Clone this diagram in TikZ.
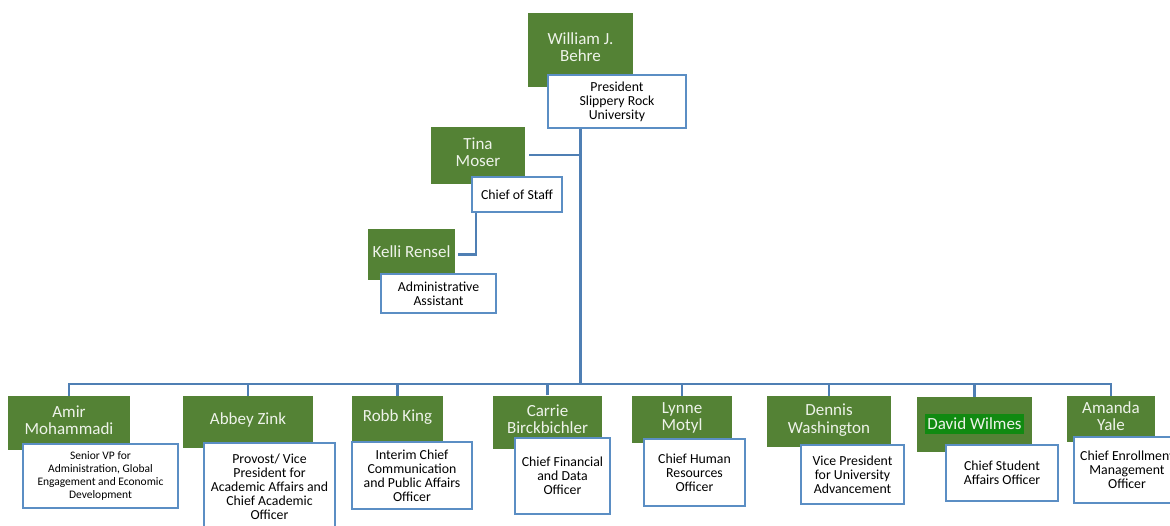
\documentclass[tikz,border=0pt]{standalone}
\usepackage{fontspec}
\setmainfont{Carlito}
\usepackage{tikz}
\definecolor{boxgreen}{HTML}{548235}
\definecolor{namefg}{HTML}{EEF3EA}
\definecolor{edgeblue}{HTML}{5B8EC4}
\definecolor{lineblue}{HTML}{4F7FB4}
\definecolor{hlgreen}{HTML}{118A11}

\begin{document}
\begin{tikzpicture}[x=1pt,y=-1pt]
	\tikzstyle{every node}=[shape=rectangle,align=center,inner sep=0pt];
	\tikzstyle{namebox}=[fill=boxgreen,text=namefg,text depth=6pt,font=\fontsize{17}{17.5}\selectfont];
	\tikzstyle{rolebox}=[draw=edgeblue,line width=2pt,fill=white,text=black,font=\fontsize{13.8}{14}\selectfont];
	\tikzstyle{conn}=[draw=lineblue,line width=2.6pt];
	\path[fill=white] (0,0) rectangle (1170,525);
	\useasboundingbox (0,0) rectangle (1170,525);
	\node[namebox,minimum width=105,minimum height=74] (v0) at (580.5,50) {William J.\\Behre};
	\node[rolebox,minimum width=138,minimum height=53] (t0) at (617,101.5) {President\\Slippery Rock\\University};
	\node[namebox,minimum width=94,minimum height=57] (v1) at (478,155) {Tina\\Moser};
	\node[rolebox,minimum width=90,minimum height=35] (t1) at (517,194.5) {Chief of Staff};
	\node[namebox,minimum width=87,minimum height=51] (v2) at (411.5,254.5) {Kelli Rensel};
	\node[rolebox,minimum width=115,minimum height=39] (t2) at (438.5,293.5) {Administrative\\Assistant};
	\node[namebox,minimum width=122,minimum height=54] (v3) at (69,423) {Amir\\Mohammadi};
	\node[rolebox,minimum width=155,minimum height=64,font=\fontsize{11.5}{13}\selectfont] (t3) at (100.5,476) {Senior VP for\\Administration, Global\\Engagement and Economic\\Development};
	\node[namebox,minimum width=130,minimum height=52] (v4) at (248,422) {Abbey Zink};
	\node[rolebox,minimum width=131,minimum height=88] (t4) at (269.5,487) {Provost/ Vice\\President for\\Academic Affairs and\\Chief Academic\\Officer};
	\node[namebox,minimum width=91,minimum height=46] (v5) at (397.5,419) {Robb King};
	\node[rolebox,minimum width=120,minimum height=67] (t5) at (412,475.5) {Interim Chief\\Communication\\and Public Affairs\\Officer};
	\node[namebox,minimum width=109,minimum height=53] (v6) at (547.5,422) {Carrie\\Birckbichler};
	\node[rolebox,minimum width=95,minimum height=76] (t6) at (562.5,476) {Chief Financial\\and Data\\Officer};
	\node[namebox,minimum width=100,minimum height=47] (v7) at (682,419.5) {Lynne\\Motyl};
	\node[rolebox,minimum width=101,minimum height=67] (t7) at (694.5,472.5) {Chief Human\\Resources\\Officer};
	\node[namebox,minimum width=124,minimum height=51] (v8) at (829,421.5) {Dennis\\Washington};
	\node[rolebox,minimum width=103,minimum height=59] (t8) at (852.5,474.5) {Vice President\\for University\\Advancement};
	\node[namebox,minimum width=115,minimum height=55] (v9) at (974.5,424.5) {{\fboxsep=2pt\colorbox{hlgreen}{\rule[-3pt]{0pt}{16pt}David Wilmes}}};
	\node[rolebox,minimum width=112,minimum height=56] (t9) at (1002,473) {Chief Student\\Affairs Officer};
	\node[namebox,minimum width=88,minimum height=46] (v10) at (1111,419) {Amanda\\Yale};
	\node[rolebox,minimum width=106,minimum height=66] (t10) at (1127,470) {Chief Enrollment\\Management\\Officer};
	\coordinate (bus) at (580.5,384);
	\draw[conn] ([xshift=4pt]v1.east) -- (v1.east -| v0.center)
	([xshift=3pt]v2.east) -| ([xshift=5pt]t1.south west)
	(t0.south -| bus) -- (bus)
	(v3.north) |- (bus) -| (v10.north)
	(v4.north) -- (v4.north |- bus)
	(v5.north) -- (v5.north |- bus)
	(v6.north) -- (v6.north |- bus)
	(v7.north) -- (v7.north |- bus)
	(v8.north) -- (v8.north |- bus)
	(v9.north) -- (v9.north |- bus);
\end{tikzpicture}
\end{document}
